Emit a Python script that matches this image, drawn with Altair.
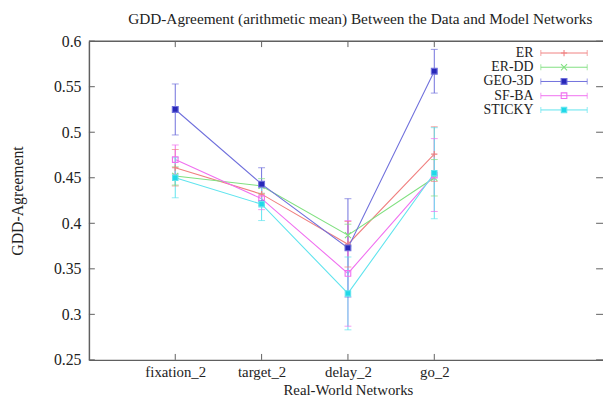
import altair as alt
import pandas as pd

categories = ["fixation_2", "target_2", "delay_2", "go_2"]
series = ["ER", "ER-DD", "GEO-3D", "SF-BA", "STICKY"]

mean_er = [0.461, 0.432, 0.377, 0.476]
mean_erdd = [0.452, 0.441, 0.387, 0.450]
mean_geo = [0.525, 0.443, 0.373, 0.567]
mean_sfba = [0.470, 0.427, 0.345, 0.453]
mean_sticky = [0.450, 0.421, 0.323, 0.455]

err_er = [0.020, 0.012, 0.025, 0.030]
err_erdd = [0.010, 0.008, 0.012, 0.020]
err_geo = [0.028, 0.018, 0.054, 0.024]
err_sfba = [0.016, 0.012, 0.058, 0.040]
err_sticky = [0.022, 0.018, 0.040, 0.050]

y_ticks = [0.25, 0.3, 0.35, 0.4, 0.45, 0.5, 0.55, 0.6]

colors = ["#f08080", "#80e080", "#7070dc", "#f070f0", "#60e4ee"]
fills = ["transparent", "transparent", "#2828b8", "transparent", "#20d8e8"]
shapes = ["M-1,0L1,0M0,-1L0,1", "M-1,-1L1,1M1,-1L-1,1", "square", "square", "square"]
sizes = [40, 30, 22, 60, 60]

means = [mean_er, mean_erdd, mean_geo, mean_sfba, mean_sticky]
errs = [err_er, err_erdd, err_geo, err_sfba, err_sticky]

rows = []
for s, m, e in zip(series, means, errs):
    for i, c in enumerate(categories):
        rows.append({"series": s, "cat": c, "pos": i + 1, "mean": m[i],
                     "lo": m[i] - e[i], "hi": m[i] + e[i]})
df = pd.DataFrame(rows)
leg = pd.DataFrame({"series": series})
ytk = pd.DataFrame({"v": y_ticks})
xtk = pd.DataFrame({"pos": list(range(1, len(categories) + 1))})
one = pd.DataFrame({"a": [0]})

W, H = 521, 323
FONT = "Liberation Serif"
BORDER = "#606060"

xs = alt.Scale(domain=[0, 5.954], nice=False, zero=False)
ys = alt.Scale(domain=[0.25, 0.6], nice=False, zero=False)
col = alt.Scale(domain=series, range=colors)
shp = alt.Scale(domain=series, range=shapes)
fil = alt.Scale(domain=series, range=fills)
siz = alt.Scale(domain=series, range=sizes)
ly = alt.Scale(type="point", domain=series, range=[12, 69.7], padding=0)

label_expr = "[''," + ",".join("'%s'" % c for c in categories) + "][datum.value]"

x_axis = alt.Axis(values=list(range(1, len(categories) + 1)), labelExpr=label_expr,
                  title="Real-World Networks", titleX=262.5, titleY=35,
                  titleBaseline="alphabetic", titleFont=FONT, titleFontSize=15,
                  titleFontWeight="normal", titleColor="#222",
                  labelFont=FONT, labelFontSize=15, labelColor="#222", labelPadding=5,
                  ticks=False, grid=False, domainColor=BORDER, domainWidth=1.5)
y_axis = alt.Axis(values=y_ticks, format="~g", title="GDD-Agreement",
                  titleX=-72, titleY=H / 2, titleAngle=-90, titleAlign="center",
                  titleBaseline="middle", titleFont=FONT, titleFontSize=16,
                  titleFontWeight="normal", titleColor="#222",
                  labelFont=FONT, labelFontSize=16, labelColor="#222", labelPadding=8,
                  ticks=False, grid=False, domainColor=BORDER, domainWidth=1.5)

base = alt.Chart(df)
X = alt.X("pos:Q", scale=xs, axis=x_axis)
C = alt.Color("series:N", scale=col, legend=None)

lines = base.mark_line(strokeWidth=1.1).encode(
    x=X, y=alt.Y("mean:Q", scale=ys, axis=y_axis),
    color=C, detail="series:N")
bars = base.mark_rule(strokeWidth=1).encode(
    x=X, y=alt.Y("lo:Q", scale=ys, axis=None), y2="hi:Q", color=C)
cap_lo = base.mark_tick(orient="horizontal", size=7, thickness=1).encode(
    x=X, y=alt.Y("lo:Q", scale=ys, axis=None), color=C)
cap_hi = base.mark_tick(orient="horizontal", size=7, thickness=1).encode(
    x=X, y=alt.Y("hi:Q", scale=ys, axis=None), color=C)
pts = base.mark_point(filled=False, opacity=1, strokeWidth=1.1).encode(
    x=X, y=alt.Y("mean:Q", scale=ys, axis=None), color=C,
    shape=alt.Shape("series:N", scale=shp, legend=None),
    fill=alt.Fill("series:N", scale=fil, legend=None),
    size=alt.Size("series:N", scale=siz, legend=None))

# inward ticks and top border
ytick_l = alt.Chart(ytk).mark_rule(color=BORDER, strokeWidth=1).encode(
    y=alt.Y("v:Q", scale=ys, axis=None), x=alt.value(0), x2=alt.value(6))
ytick_r = alt.Chart(ytk).mark_rule(color=BORDER, strokeWidth=1).encode(
    y=alt.Y("v:Q", scale=ys, axis=None), x=alt.value(W - 7), x2=alt.value(W))
xtick_b = alt.Chart(xtk).mark_rule(color=BORDER, strokeWidth=1).encode(
    x=X, y=alt.value(H), y2=alt.value(H - 6))
xtick_t = alt.Chart(xtk).mark_rule(color=BORDER, strokeWidth=1).encode(
    x=X, y=alt.value(0), y2=alt.value(6))
top = alt.Chart(one).mark_rule(color=BORDER, strokeWidth=1.5).encode(
    x=alt.value(0), x2=alt.value(W), y=alt.value(0))

title = alt.Chart(one).mark_text(
    text="GDD-Agreement (arithmetic mean) Between the Data and Model Networks",
    font=FONT, fontSize=15.5, color="#222", align="center", baseline="middle").encode(
    x=alt.value(275), y=alt.value(-22))

# legend
lbase = alt.Chart(leg)
LY = alt.Y("series:N", scale=ly, axis=None)
leg_text = lbase.mark_text(align="right", baseline="middle", font=FONT,
                           fontSize=14, color="#222").encode(
    x=alt.value(450.5), y=LY, text="series:N")
leg_line = lbase.mark_rule(strokeWidth=1).encode(
    x=alt.value(458), x2=alt.value(505), y=LY, color=C)
leg_cap1 = lbase.mark_tick(orient="vertical", size=6, thickness=1).encode(
    x=alt.value(458), y=LY, color=C)
leg_cap2 = lbase.mark_tick(orient="vertical", size=6, thickness=1).encode(
    x=alt.value(505), y=LY, color=C)
leg_pt = lbase.mark_point(filled=False, opacity=1, strokeWidth=1.1).encode(
    x=alt.value(481.5), y=LY, color=C,
    shape=alt.Shape("series:N", scale=shp, legend=None),
    fill=alt.Fill("series:N", scale=fil, legend=None),
    size=alt.Size("series:N", scale=siz, legend=None))

chart = alt.layer(
    lines, bars, cap_lo, cap_hi, pts,
    ytick_l, ytick_r, xtick_b, xtick_t, top, title,
    leg_text, leg_line, leg_cap1, leg_cap2, leg_pt
).resolve_scale(y="independent").properties(
    width=W, height=H,
    autosize=alt.AutoSizeParams(type="none"),
    padding={"left": 82, "top": 31, "right": 0, "bottom": 35},
    background="white"
).configure_view(stroke=None)

chart.save("out.html", embed_options={"renderer": "svg", "actions": False})
